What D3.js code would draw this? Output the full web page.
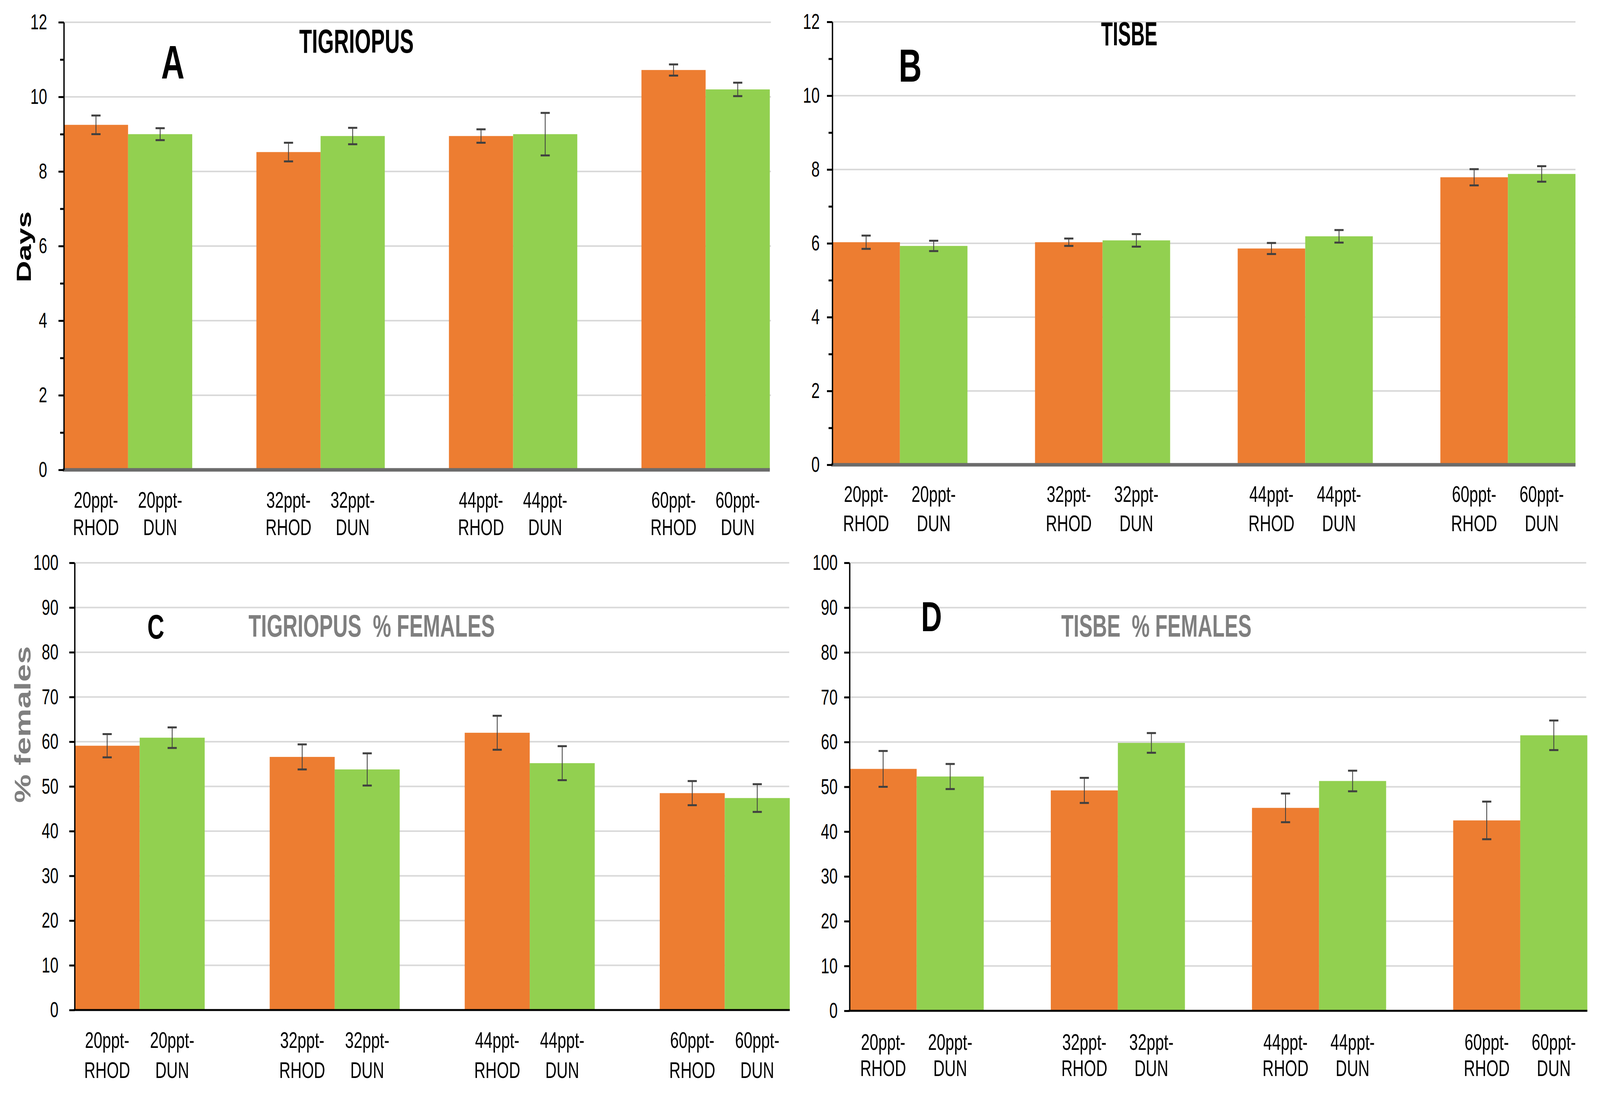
<!DOCTYPE html>
<html>
<head>
<meta charset="utf-8">
<script src="https://cdn.jsdelivr.net/npm/d3@7"></script>
<style>
  html, body { margin: 0; padding: 0; background: #fff; overflow: hidden; }
  #chart { width: 100vw; height: 100vh; }
  svg { display: block; width: 100%; height: 100%; }
</style>
</head>
<body>
<div id="chart"></div>
<script>
// salinity groups and strains
const groups = ["20ppt", "32ppt", "44ppt", "60ppt"];
const strains = ["RHOD", "DUN"];

// A - Tigriopus, days
const tigDaysRhod = [9.25, 8.52, 8.95, 10.72];
const tigDaysRhodErr = [0.25, 0.25, 0.18, 0.15];
const tigDaysDun = [9.0, 8.95, 9.0, 10.2];
const tigDaysDunErr = [0.16, 0.22, 0.57, 0.18];

// B - Tisbe, days
const tisDaysRhod = [6.03, 6.03, 5.86, 7.79];
const tisDaysRhodErr = [0.18, 0.1, 0.15, 0.22];
const tisDaysDun = [5.93, 6.08, 6.19, 7.88];
const tisDaysDunErr = [0.14, 0.17, 0.17, 0.21];

// C - Tigriopus, % females
const tigFemRhod = [59.1, 56.6, 62.0, 48.5];
const tigFemRhodErr = [2.6, 2.8, 3.8, 2.7];
const tigFemDun = [60.9, 53.8, 55.2, 47.4];
const tigFemDunErr = [2.3, 3.6, 3.8, 3.1];

// D - Tisbe, % females
const tisFemRhod = [54.0, 49.2, 45.3, 42.5];
const tisFemRhodErr = [4.0, 2.8, 3.2, 4.2];
const tisFemDun = [52.3, 59.8, 51.3, 61.5];
const tisFemDunErr = [2.8, 2.2, 2.3, 3.3];

const daysTicks = [0, 2, 4, 6, 8, 10, 12];
const daysMinor = [1, 3, 5, 7, 9, 11];
const femTicks = [0, 10, 20, 30, 40, 50, 60, 70, 80, 90, 100];

const colours = { RHOD: "#ED7D31", DUN: "#92D050" };
const sans = "'Liberation Sans', Arial, sans-serif";

// drawing is done in the reference's own pixel space, then stretched to the window
const W = 5936, H = 2801;
const svg = d3.select("#chart").append("svg")
    .attr("viewBox", `0 0 ${W} ${H}`)
    .attr("preserveAspectRatio", "none");
svg.append("rect").attr("width", W).attr("height", H).attr("fill", "#fff");

const panels = [
    {
        rhod: tigDaysRhod, rhodErr: tigDaysRhodErr, dun: tigDaysDun, dunErr: tigDaysDunErr,
        max: 12, ticks: daysTicks, minor: daysMinor,
        left: 237, right: 2856, gridRight: 2860, y0: 1203, yTop: 57,
        labelGap: 42, axisColour: "#6b6b6b", axisWidth: 9,
        lab1: 1300, lab2: 1370,
        letter: "A", letterX: 641, letterY: 201, letterSize: 120,
        title: "TIGRIOPUS", titleX: 1110, titleY: 135, titleW: 425, titleSize: 86, titleColour: "#000",
        yLabel: "Days", yLabelX: 88, yLabelY: 632, yLabelColour: "#000", yLabelSize: 76
    },
    {
        rhod: tisDaysRhod, rhodErr: tisDaysRhodErr, dun: tisDaysDun, dunErr: tisDaysDunErr,
        max: 12, ticks: daysTicks, minor: daysMinor,
        left: 3088, right: 5845, gridRight: 5845, y0: 1190, yTop: 56,
        labelGap: 27, axisColour: "#6b6b6b", axisWidth: 9,
        lab1: 1285, lab2: 1360,
        letter: "B", letterX: 3377, letterY: 209, letterSize: 118,
        title: "TISBE", titleX: 4085, titleY: 116, titleW: 209, titleSize: 86, titleColour: "#000"
    },
    {
        rhod: tigFemRhod, rhodErr: tigFemRhodErr, dun: tigFemDun, dunErr: tigFemDunErr,
        max: 100, ticks: femTicks, minor: [],
        left: 277, right: 2930, gridRight: 2928, y0: 2586, yTop: 1441,
        labelGap: 40, axisColour: "#000", axisWidth: 5,
        lab1: 2683, lab2: 2760,
        letter: "C", letterX: 578, letterY: 1635, letterSize: 87,
        title: "TIGRIOPUS  % FEMALES", titleX: 922, titleY: 1630, titleW: 914, titleSize: 80, titleColour: "#7f7f7f",
        yLabel: "% females", yLabelX: 85, yLabelY: 1855, yLabelColour: "#7f7f7f", yLabelSize: 82
    },
    {
        rhod: tisFemRhod, rhodErr: tisFemRhodErr, dun: tisFemDun, dunErr: tisFemDunErr,
        max: 100, ticks: femTicks, minor: [],
        left: 3152, right: 5889, gridRight: 5885, y0: 2588, yTop: 1441,
        labelGap: 24, axisColour: "#000", axisWidth: 5,
        lab1: 2688, lab2: 2755,
        letter: "D", letterX: 3456, letterY: 1616, letterSize: 107,
        title: "TISBE  % FEMALES", titleX: 3937, titleY: 1630, titleW: 706, titleSize: 80, titleColour: "#7f7f7f"
    }
];

panels.forEach(p => drawPanel(p));

function drawPanel(p) {
    const g = svg.append("g");

    const x0 = d3.scaleBand().domain(groups).range([p.left, p.right])
        .paddingInner(1 / 3).paddingOuter(0);
    const x1 = d3.scaleBand().domain(strains).range([0, x0.bandwidth()]);
    const y = d3.scaleLinear().domain([0, p.max]).range([p.y0, p.yTop]);
    const cx = d => x0(d.grp) + x1(d.strain) + x1.bandwidth() / 2;

    const rows = [];
    groups.forEach((grp, i) => {
        rows.push({ grp, strain: "RHOD", value: p.rhod[i], err: p.rhodErr[i] });
        rows.push({ grp, strain: "DUN", value: p.dun[i], err: p.dunErr[i] });
    });

    // gridlines
    g.append("g").selectAll("line")
        .data(p.ticks.filter(d => d > 0))
        .join("line")
        .attr("x1", p.left).attr("x2", p.gridRight)
        .attr("y1", d => y(d)).attr("y2", d => y(d))
        .attr("stroke", "#d9d9d9").attr("stroke-width", 4);

    // bars
    g.append("g").selectAll("rect")
        .data(rows)
        .join("rect")
        .attr("x", d => x0(d.grp) + x1(d.strain))
        .attr("width", x1.bandwidth())
        .attr("y", d => y(d.value))
        .attr("height", d => y(0) - y(d.value))
        .attr("fill", d => colours[d.strain]);

    // error bars
    const cap = 17;
    const eb = g.append("g").attr("stroke", "#404040").attr("stroke-width", 3);
    eb.selectAll("line.v").data(rows).join("line").attr("class", "v")
        .attr("x1", cx).attr("x2", cx)
        .attr("y1", d => y(d.value + d.err)).attr("y2", d => y(d.value - d.err));
    eb.selectAll("line.t").data(rows).join("line").attr("class", "t")
        .attr("x1", d => cx(d) - cap).attr("x2", d => cx(d) + cap)
        .attr("y1", d => y(d.value + d.err)).attr("y2", d => y(d.value + d.err))
        .attr("stroke-width", 5);
    eb.selectAll("line.b").data(rows).join("line").attr("class", "b")
        .attr("x1", d => cx(d) - cap).attr("x2", d => cx(d) + cap)
        .attr("y1", d => y(d.value - d.err)).attr("y2", d => y(d.value - d.err))
        .attr("stroke-width", 5);

    // x axis line
    g.append("line")
        .attr("x1", p.left - 4).attr("x2", p.right)
        .attr("y1", y(0)).attr("y2", y(0))
        .attr("stroke", p.axisColour).attr("stroke-width", p.axisWidth);

    // y axis
    const yAxis = g.append("g")
        .attr("transform", `translate(${p.left},0)`)
        .call(d3.axisLeft(y).tickValues(p.ticks).tickFormat(d3.format("d"))
            .tickSize(20).tickSizeOuter(0).tickPadding(p.labelGap));
    yAxis.select(".domain").attr("stroke", "#000").attr("stroke-width", 5);
    yAxis.selectAll(".tick line").attr("stroke", "#000").attr("stroke-width", 5);
    yAxis.selectAll(".tick text")
        .attr("font-family", sans).attr("font-size", 56).attr("fill", "#000");

    if (p.minor.length) {
        const minorAxis = g.append("g")
            .attr("transform", `translate(${p.left},0)`)
            .call(d3.axisLeft(y).tickValues(p.minor).tickFormat("").tickSize(14).tickSizeOuter(0));
        minorAxis.select(".domain").remove();
        minorAxis.selectAll(".tick line").attr("stroke", "#000").attr("stroke-width", 5);
    }

    // category labels, two lines under each bar
    const lab = g.append("g")
        .attr("font-family", sans).attr("font-size", 58)
        .attr("text-anchor", "middle").attr("fill", "#000");
    lab.selectAll("text.l1").data(rows).join("text").attr("class", "l1")
        .attr("x", cx).attr("y", p.lab1)
        .text(d => d.grp + "-");
    lab.selectAll("text.l2").data(rows).join("text").attr("class", "l2")
        .attr("x", cx).attr("y", p.lab2)
        .text(d => d.strain);

    // panel letter
    g.append("text")
        .attr("x", p.letterX).attr("y", p.letterY)
        .attr("text-anchor", "middle")
        .attr("font-family", sans).attr("font-weight", "bold")
        .attr("font-size", p.letterSize).attr("fill", "#000")
        .text(p.letter);

    // title
    g.append("text")
        .attr("x", p.titleX).attr("y", p.titleY)
        .attr("font-family", sans).attr("font-weight", "bold")
        .attr("font-size", p.titleSize).attr("fill", p.titleColour)
        .attr("textLength", p.titleW).attr("lengthAdjust", "spacingAndGlyphs")
        .attr("xml:space", "preserve")
        .text(p.title);

    // y axis title
    if (p.yLabel) {
        g.append("text")
            .attr("transform", `translate(${p.yLabelX},${p.yLabelY}) rotate(-90)`)
            .attr("text-anchor", "middle").attr("dominant-baseline", "central")
            .attr("font-family", sans).attr("font-weight", "bold")
            .attr("font-size", p.yLabelSize).attr("fill", p.yLabelColour)
            .text(p.yLabel);
    }
}
</script>
</body>
</html>
